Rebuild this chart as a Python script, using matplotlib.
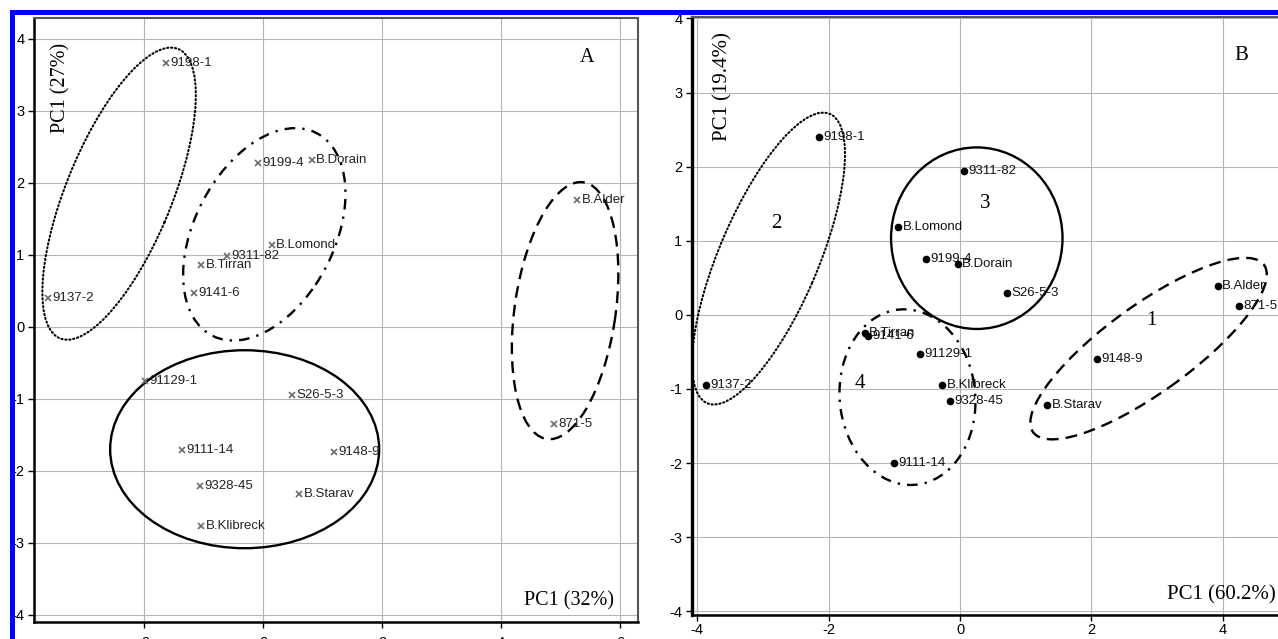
import matplotlib
matplotlib.use('Agg')
import matplotlib.pyplot as plt
from matplotlib.patches import Ellipse, Rectangle

plt.rcParams['axes.unicode_minus'] = False

# sample names (same order in both panels)
names = ['9198-1', '9137-2', '9199-4', 'B.Dorain', 'B.Lomond', '9311-82', 'B.Tirran', '9141-6',
         'B.Alder', '871-5', '91129-1', 'S26-5-3', '9111-14', '9328-45', 'B.Klibreck', 'B.Starav', '9148-9']

# panel A scores
xA = [-1.63, -3.61, -0.08, 0.82, 0.15, -0.61, -1.04, -1.16, 5.28, 4.89, -1.98, 0.49, -1.36, -1.06, -1.04, 0.61, 1.19]
yA = [3.67, 0.40, 2.28, 2.32, 1.13, 0.99, 0.86, 0.47, 1.76, -1.35, -0.75, -0.94, -1.71, -2.21, -2.76, -2.32, -1.74]

# panel B scores
xB = [-2.15, -3.87, -0.52, -0.03, -0.94, 0.06, -1.45, -1.40, 3.93, 4.25, -0.61, 0.72, -1.00, -0.15, -0.27, 1.33, 2.09]
yB = [2.40, -0.95, 0.76, 0.685, 1.19, 1.94, -0.25, -0.28, 0.39, 0.12, -0.53, 0.29, -2.00, -1.16, -0.95, -1.21, -0.60]

# cluster ellipses: centre x, centre y, width, height, angle, line style
ellA_cx = [-2.42, 0.02, -0.31, 5.075]
ellA_cy = [1.85, 1.285, -1.70, 0.225]
ellA_w = [4.49, 3.35, 4.52, 3.62]
ellA_h = [1.72, 2.22, 2.75, 1.69]
ellA_ang = [62.4, 50.8, 0, 79.4]
ellA_ls = ['dotted', 'dashdot', 'solid', 'dashed']

ellB_cx = [-2.915, 0.255, -0.80, 2.87]
ellB_cy = [0.76, 1.035, -1.11, -0.455]
ellB_w = [4.33, 2.61, 2.38, 4.18]
ellB_h = [1.48, 2.45, 2.06, 1.22]
ellB_ang = [63.8, 0, 100, 32.1]
ellB_ls = ['dotted', 'solid', 'dashdot', 'dashed']

# cluster numbers in panel B
groups = ['2', '3', '4', '1']
grp_x = [-2.80, 0.38, -1.52, 2.92]
grp_y = [1.24, 1.50, -0.93, -0.08]

dash_patterns = {'dotted': (0, (0.6, 1.3)), 'dashdot': (0, (4.5, 3, 1, 3)),
                 'solid': 'solid', 'dashed': (0, (5, 3))}

sans = 'Liberation Sans'
serif = 'Liberation Serif'

fig = plt.figure(figsize=(12.78, 6.39), dpi=100)


def draw_ellipses(ax, cx, cy, w, h, ang, ls):
    for i in range(len(cx)):
        lw = 1.5 if ls[i] == 'dotted' else 1.7
        e = Ellipse((cx[i], cy[i]), w[i], h[i], angle=ang[i], fill=False,
                    edgecolor='black', linewidth=lw, linestyle=dash_patterns[ls[i]])
        if ls[i] == 'dotted':
            e.set_capstyle('round')
        ax.add_patch(e)


def style_axes(ax):
    ax.grid(True, color='#b5b5b5', linewidth=0.8)
    ax.set_axisbelow(True)
    ax.tick_params(length=4, width=1, labelsize=10.5, direction='out')
    for lab in ax.get_xticklabels() + ax.get_yticklabels():
        lab.set_fontfamily(sans)
    ax.spines['left'].set_linewidth(1.8)
    ax.spines['bottom'].set_linewidth(1.8)
    ax.spines['top'].set_color('#555555')
    ax.spines['right'].set_color('#555555')
    ax.spines['top'].set_linewidth(1.5)
    ax.spines['right'].set_linewidth(1.5)


# ---------- panel A ----------
axA = fig.add_axes([34 / 1278, 17 / 639, 604 / 1278, 604 / 639])
axA.set_xlim(-3.85, 6.3)
axA.set_ylim(-4.1, 4.29)
axA.set_xticks([-2, 0, 2, 4, 6])
axA.set_yticks(range(-4, 5))
style_axes(axA)
axA.tick_params(axis='x', pad=6)
axA.tick_params(axis='y', pad=3)

draw_ellipses(axA, ellA_cx, ellA_cy, ellA_w, ellA_h, ellA_ang, ellA_ls)
axA.plot(xA, yA, linestyle='none', marker='x', markersize=4, markeredgewidth=1.2, color='#6a6a6a')
for n, x, y in zip(names, xA, yA):
    axA.annotate(n, (x, y), xytext=(3, 0), textcoords='offset points', va='center', ha='left',
                 fontsize=9.5, family=sans, color='#222222')

axA.text(0.96, 0.035, 'PC1 (32%)', transform=axA.transAxes, ha='right', va='center',
         fontsize=14.5, family=serif)
axA.text(0.045, 0.885, 'PC1 (27%)', transform=axA.transAxes, ha='center', va='center',
         rotation=90, fontsize=14.5, family=serif)
axA.text(0.915, 0.935, 'A', transform=axA.transAxes, ha='center', va='center',
         fontsize=14.5, family=serif)

# ---------- panel B ----------
axB = fig.add_axes([692 / 1278, 24 / 639, 596.5 / 1278, 598 / 639])
axB.set_xlim(-4.08, 5.0)
axB.set_ylim(-4.05, 4.02)
axB.set_xticks([-4, -2, 0, 2, 4])
axB.set_yticks(range(-4, 5))
style_axes(axB)
axB.tick_params(axis='x', pad=2)
axB.tick_params(axis='y', pad=3)
axB.spines['left'].set_linewidth(2.4)

draw_ellipses(axB, ellB_cx, ellB_cy, ellB_w, ellB_h, ellB_ang, ellB_ls)
axB.plot(xB, yB, linestyle='none', marker='o', markersize=4.5, color='black')
for n, x, y in zip(names, xB, yB):
    axB.annotate(n, (x, y), xytext=(3, 0), textcoords='offset points', va='center', ha='left',
                 fontsize=9.5, family=sans, color='#111111')
for g, x, y in zip(groups, grp_x, grp_y):
    axB.text(x, y, g, ha='center', va='center', fontsize=15, family=serif)

axB.text(1276 / 1278, 44 / 639, 'PC1 (60.2%)', transform=fig.transFigure, ha='right', va='center',
         fontsize=15, family=serif)
axB.text(723 / 1278, 1 - 87 / 639, 'PC1 (19.4%)', transform=fig.transFigure, ha='center', va='center',
         rotation=90, fontsize=15, family=serif)
axB.text(1241 / 1278, 1 - 56 / 639, 'B', transform=fig.transFigure, ha='center', va='center',
         fontsize=15, family=serif)

# blue frame along top and left edge
fig.patches.append(Rectangle((10 / 1278, 1 - 15 / 639), 1, 5 / 639, transform=fig.transFigure,
                             facecolor='#0000ff', edgecolor='none', zorder=10))
fig.patches.append(Rectangle((10 / 1278, 0), 5 / 1278, 1 - 10 / 639, transform=fig.transFigure,
                             facecolor='#0000ff', edgecolor='none', zorder=10))

fig.savefig('out.png', dpi=100)
